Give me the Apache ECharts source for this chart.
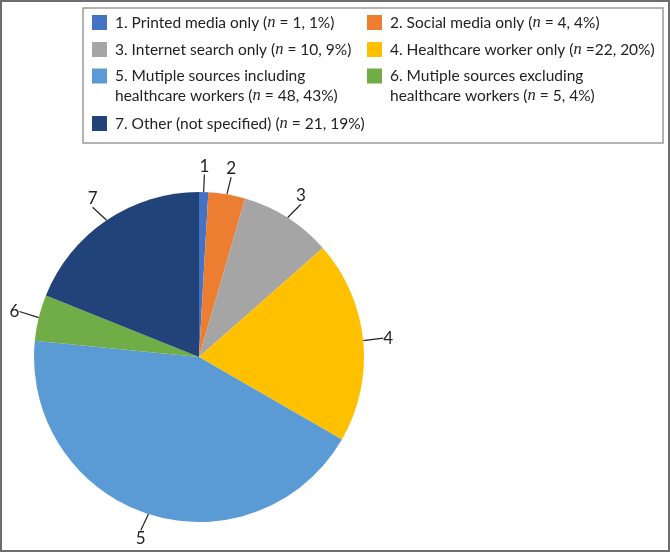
<!DOCTYPE html>
<html>
<head>
<meta charset="utf-8">
<script src="https://cdn.jsdelivr.net/npm/echarts@6/dist/echarts.min.js"></script>
<style>
  html, body { margin: 0; padding: 0; background: #fff; }
  #pieChart { width: 670px; height: 552px; }
</style>
</head>
<body>
<div id="pieChart"></div>
<script>
// data
var sourceNames = [
    'Printed media only',
    'Social media only',
    'Internet search only',
    'Healthcare worker only',
    'Mutiple sources including\nhealthcare workers',
    'Mutiple sources excluding\nhealthcare workers',
    'Other (not specified)'
];
var counts = [1, 4, 10, 22, 48, 5, 21];
var percents = [1, 4, 9, 20, 43, 4, 19];
var sliceLabels = ['1', '2', '3', '4', '5', '6', '7'];
var colors = ['#4472C4', '#ED7D31', '#A5A5A5', '#FFC000', '#5B9BD5', '#70AD47', '#22437A'];

var chartDom = document.getElementById('pieChart');
var pieChart = echarts.init(chartDom);

var fontMain = 'Lato';

// legend slots: [left, center y of first line]
var legendPos = [
    [92, 24], [367, 24],
    [92, 51], [367, 51],
    [92, 78], [367, 78],
    [92, 125]
];

function legendText(i) {
    var eq = (i == 3) ? ' =' : ' = ';   // the figure has "n =22"
    var lines = sourceNames[i].split('\n');
    var first = (i + 1) + '. ' + lines[0];
    var tail = '{i|n}{a|' + eq + counts[i] + ', ' + percents[i] + '%)}';
    if (lines.length == 1) {
        return '{a|' + first + ' (}' + tail;
    }
    // blank line on top keeps the icon level with the first line
    return '{a| }\n{a|' + first + '}\n{a|' + lines[1] + ' (}' + tail;
}

var legends = [];
var pieData = [];
for (var i = 0; i < counts.length; i++) {
    var multi = sourceNames[i].indexOf('\n') >= 0;
    legends.push({
        data: [sourceNames[i]],
        left: legendPos[i][0],
        top: legendPos[i][1] - (multi ? 30 : 10),
        padding: 0,
        itemWidth: 15,
        itemHeight: 15,
        icon: 'rect',
        selectedMode: false,
        formatter: (function (k) { return function () { return legendText(k); }; })(i),
        textStyle: {
            padding: [0, 0, 0, 3],
            rich: {
                a: {fontFamily: fontMain, fontSize: 15.5, color: '#222', lineHeight: 20},
                i: {fontFamily: 'Liberation Serif', fontStyle: 'italic', fontSize: 16.5, color: '#222', lineHeight: 20}
            }
        }
    });
    pieData.push({
        name: sourceNames[i],
        value: counts[i],
        itemStyle: {color: colors[i]},
        label: {formatter: sliceLabels[i]}
    });
}

var option = {
    animation: false,
    legend: legends,
    graphic: [
        {   // outer frame
            type: 'rect',
            shape: {x: 1, y: 1, width: 668, height: 550},
            style: {fill: 'none', stroke: '#6e6e6e', lineWidth: 2},
            silent: true
        },
        {   // box round the legend
            type: 'rect',
            shape: {x: 83, y: 8, width: 580, height: 135},
            style: {fill: 'none', stroke: '#9a9a9a', lineWidth: 1.5},
            silent: true
        }
    ],
    series: [
        {
            type: 'pie',
            center: [199, 357],
            radius: 165,
            startAngle: 90,
            clockwise: true,
            avoidLabelOverlap: false,
            data: pieData,
            label: {
                show: true,
                position: 'outside',
                fontFamily: fontMain,
                fontSize: 17,
                color: '#222'
            },
            labelLine: {
                show: true,
                length: 14,
                length2: 0,
                lineStyle: {color: '#222', width: 1.2}
            },
            // put each number straight out along its leader line
            labelLayout: function (params) {
                var pts = params.labelLinePoints;
                if (!pts) return {};
                var p = pts[pts.length - 1], q = pts[0];
                var dx = p[0] - q[0], dy = p[1] - q[1];
                var len = Math.sqrt(dx * dx + dy * dy) || 1;
                return {
                    x: p[0] + dx / len * 11,
                    y: p[1] + dy / len * 12,
                    align: 'center',
                    verticalAlign: 'middle'
                };
            },
            emphasis: {disabled: true}
        }
    ]
};

pieChart.setOption(option);
</script>
</body>
</html>
